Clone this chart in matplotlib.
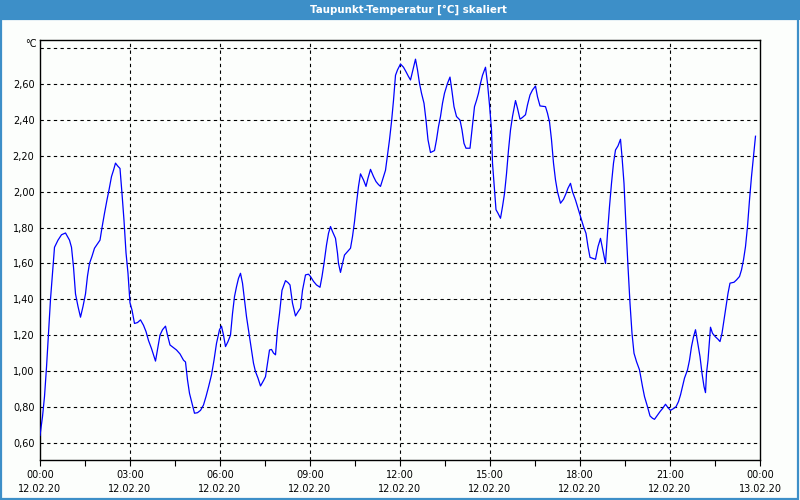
import matplotlib
matplotlib.use("Agg")
import matplotlib.pyplot as plt
from matplotlib.patches import Rectangle

# time in minutes after 12.02.20 00:00, dew point in °C
minutes = [0, 5, 9, 13, 17, 21, 25, 29, 36, 43, 51, 59, 63, 67, 71, 76, 81, 86, 91, 95,
           99, 104, 109, 115, 120, 124, 129, 134, 138, 143, 147, 151, 155, 160, 164, 168,
           172, 176, 180, 184, 189, 195, 201, 207, 212, 217, 223, 227, 231, 235,
           240, 245, 251, 255, 260, 267, 273, 280, 287, 291, 295, 299, 304, 309, 315, 321,
           327, 332, 337, 343, 348, 353, 359, 363, 367, 371, 376, 381, 385, 389, 393, 397,
           401, 405, 409, 413, 417, 423, 427, 431, 436, 441, 447, 451, 455, 459, 463, 467,
           471, 475, 479,
           484, 491, 496, 500, 505, 511, 516, 521, 525, 531, 537, 541, 547, 553, 560, 564,
           568, 573, 577, 581, 585, 591, 595, 597, 601, 605, 609, 615, 621, 625, 629, 633,
           637, 641, 647, 652, 656, 661, 667, 672, 677, 681, 685, 691, 695, 699, 703, 707,
           711, 715,
           721, 727, 732, 737, 741, 745, 751, 755, 759, 763, 768, 772, 776, 781, 789, 793,
           797, 801, 805, 809, 815, 820, 824, 828, 833, 840, 844, 848, 852, 860, 864, 869,
           873, 877, 881, 885, 891, 895, 899, 903, 905, 908, 912, 916, 921, 925, 929, 933,
           937, 941, 945, 951, 955, 960,
           965, 971, 975, 980, 985, 991, 995, 1000, 1011, 1015, 1019, 1023, 1027, 1031, 1035,
           1041, 1047, 1052, 1056, 1061, 1065, 1071, 1076, 1081, 1087, 1092, 1096, 1100, 1105,
           1111, 1116, 1121, 1125, 1131, 1135, 1139, 1143, 1147, 1151, 1156, 1161, 1164, 1168,
           1172, 1176, 1180, 1184, 1188, 1193, 1199,
           1205, 1209, 1215, 1220, 1225, 1229, 1235, 1240, 1245, 1251, 1256, 1261, 1267, 1272,
           1277, 1281, 1285, 1289, 1295, 1299, 1303, 1307, 1311, 1316, 1320, 1324, 1328, 1331,
           1333, 1336, 1339, 1341, 1345, 1351, 1356, 1360, 1364, 1368, 1372, 1376, 1380, 1388,
           1393, 1399, 1403, 1407, 1411, 1415, 1419, 1423, 1427, 1431]

dewpoint = [0.64, 0.745, 0.857, 1.02, 1.21, 1.40, 1.545, 1.69, 1.73, 1.76, 1.77, 1.73, 1.69,
            1.58, 1.43, 1.36, 1.30, 1.36, 1.43, 1.53, 1.60, 1.64, 1.685, 1.71, 1.73, 1.80,
            1.88, 1.955, 2.01, 2.085, 2.12, 2.16, 2.145, 2.13, 1.99, 1.84, 1.66, 1.545, 1.38,
            1.34, 1.265, 1.27, 1.285, 1.255, 1.22, 1.17, 1.125, 1.09, 1.055, 1.12,
            1.20, 1.23, 1.25, 1.20, 1.145, 1.13, 1.117, 1.095, 1.06, 1.05, 0.95, 0.875, 0.82,
            0.764, 0.767, 0.78, 0.81, 0.857, 0.91, 0.978, 1.06, 1.154, 1.23, 1.25, 1.20, 1.136,
            1.164, 1.20, 1.32, 1.415, 1.47, 1.517, 1.545, 1.49, 1.396, 1.303, 1.23, 1.117,
            1.043, 0.996, 0.96, 0.916, 0.946, 0.968, 1.043, 1.117, 1.12, 1.10, 1.09, 1.23, 1.32,
            1.45, 1.504, 1.493, 1.48, 1.378, 1.307, 1.33, 1.35, 1.45, 1.536, 1.54, 1.527, 1.50,
            1.48, 1.467, 1.527, 1.60, 1.703, 1.768, 1.806, 1.778, 1.74, 1.657, 1.60, 1.55, 1.60,
            1.647, 1.666, 1.685, 1.75, 1.833, 1.936, 2.03, 2.10, 2.066, 2.03, 2.076, 2.125,
            2.085, 2.057, 2.04, 2.03, 2.066, 2.12, 2.206, 2.29, 2.39, 2.51, 2.65, 2.68,
            2.713, 2.695, 2.67, 2.643, 2.624, 2.67, 2.74, 2.68, 2.605, 2.55, 2.494, 2.40, 2.29,
            2.219, 2.23, 2.29, 2.364, 2.42, 2.494, 2.55, 2.605, 2.64, 2.56, 2.475, 2.42, 2.40,
            2.345, 2.27, 2.243, 2.243, 2.345, 2.475, 2.51, 2.55, 2.605, 2.65, 2.695, 2.605,
            2.485, 2.345, 2.16, 2.047, 1.90, 1.88, 1.852, 1.917, 1.99, 2.10, 2.233, 2.345,
            2.42, 2.509, 2.466, 2.405,
            2.415, 2.43, 2.485, 2.54, 2.568, 2.59, 2.53, 2.479, 2.475, 2.438, 2.39, 2.29, 2.16,
            2.066, 2.00, 1.936, 1.958, 1.99, 2.02, 2.047, 2.00, 1.954, 1.908, 1.86, 1.806,
            1.768, 1.694, 1.634, 1.629, 1.623, 1.694, 1.74, 1.685, 1.60, 1.768, 1.917, 2.047,
            2.16, 2.233, 2.256, 2.293, 2.196, 2.047, 1.806, 1.582, 1.378, 1.21, 1.099, 1.052,
            1.006,
            0.913, 0.857, 0.80, 0.749, 0.736, 0.73, 0.754, 0.773, 0.79, 0.814, 0.795, 0.78,
            0.79, 0.80, 0.829, 0.866, 0.913, 0.96, 1.006, 1.06, 1.136, 1.19, 1.23, 1.145, 1.08,
            0.987, 0.913, 0.879, 0.987, 1.06, 1.173, 1.244, 1.21, 1.19, 1.177, 1.164, 1.21,
            1.285, 1.36, 1.433, 1.49, 1.495, 1.508, 1.527, 1.564, 1.62, 1.694, 1.806, 1.954,
            2.085, 2.196, 2.31]

xtick_minutes = [0, 180, 360, 540, 720, 900, 1080, 1260, 1440]
xtick_times = ["00:00", "03:00", "06:00", "09:00", "12:00", "15:00", "18:00", "21:00", "00:00"]
xtick_dates = ["12.02.20"] * 8 + ["13.02.20"]
ytick_values = [0.60, 0.80, 1.00, 1.20, 1.40, 1.60, 1.80, 2.00, 2.20, 2.40, 2.60]
ytick_labels = ["0,60", "0,80", "1,00", "1,20", "1,40", "1,60", "1,80", "2,00", "2,20", "2,40", "2,60"]
grid_y = ytick_values + [2.80]

title = "Taupunkt-Temperatur [°C] skaliert"
unit = "°C"

BG = "#fcfefc"
BLUE_BAR = "#3d8fc8"

fig = plt.figure(figsize=(8, 5), dpi=100, facecolor=BG)

# title bar and frame
fig.patches.append(Rectangle((0, 0.96), 1, 0.04, transform=fig.transFigure,
                             facecolor=BLUE_BAR, edgecolor="none", zorder=0))
fig.patches.append(Rectangle((0.001, 0.002), 0.997, 0.96, transform=fig.transFigure,
                             facecolor="none", edgecolor=BLUE_BAR, linewidth=1.6, zorder=0))
fig.text(0.511, 0.981, title, ha="center", va="center", color="white",
         fontsize=7.4, fontweight="bold", family="DejaVu Sans")

ax = fig.add_axes([0.05, 0.08, 0.90, 0.84])
ax.set_facecolor(BG)
ax.plot(minutes, dewpoint, color="#0000ff", linewidth=0.9, zorder=3)

ax.set_xlim(0, 1440)
ax.set_ylim(0.503, 2.847)

for v in grid_y:
    ax.axhline(v, color="black", linewidth=0.8, linestyle=(0, (3, 3)), zorder=1)
for m in xtick_minutes[1:-1]:
    ax.axvline(m, color="black", linewidth=0.8, linestyle=(0, (3, 3)), zorder=1)

ax.set_yticks(ytick_values)
ax.set_yticklabels(ytick_labels)
ax.tick_params(axis="y", length=0, pad=4, labelsize=7)

ax.set_xticks(xtick_minutes)
ax.set_xticklabels([f"{t}\n{d}" for t, d in zip(xtick_times, xtick_dates)], linespacing=1.5)
ax.set_xticks([90 + 180 * i for i in range(8)], minor=True)
ax.tick_params(axis="x", which="both", direction="out", length=4, width=0.8, pad=3, labelsize=7)

for s in ax.spines.values():
    s.set_linewidth(1.0)
    s.set_color("black")

ax.text(-0.004, 1.0 - 4 / 420, unit, transform=ax.transAxes, ha="right", va="center", fontsize=7)

fig.savefig("out.png", dpi=100, facecolor=BG)
